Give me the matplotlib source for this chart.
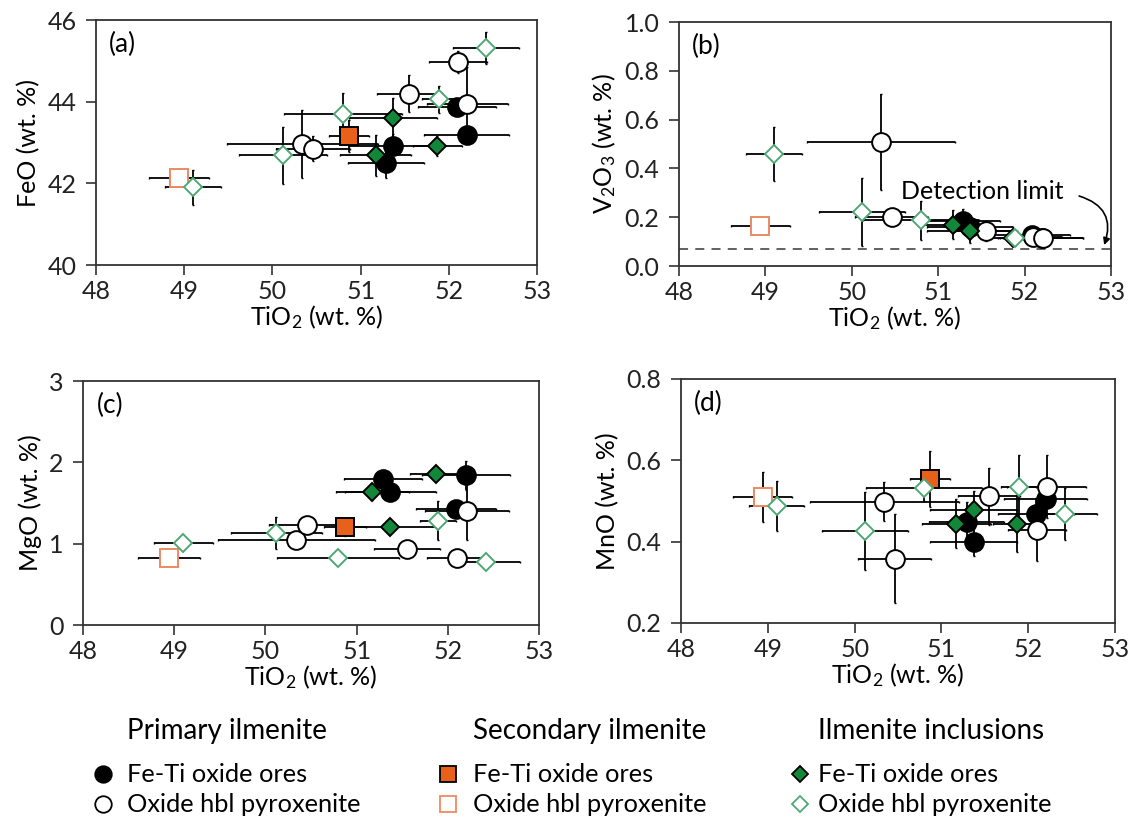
import numpy as np
import matplotlib
matplotlib.use('Agg')
from matplotlib import pyplot as plt
from matplotlib.lines import Line2D

plt.rcParams['font.family'] = ['Lato', 'DejaVu Sans']
plt.rcParams['mathtext.fontset'] = 'custom'
plt.rcParams['mathtext.rm'] = 'Lato'
plt.rcParams['mathtext.it'] = 'Lato:italic'
plt.rcParams['mathtext.bf'] = 'Lato:bold'

# Primary ilmenite - Fe-Ti oxide ores
pri_ore_tio2 = [51.29, 51.37, 52.09, 52.20]
pri_ore_tio2_err = [0.43, 0.50, 0.44, 0.48]
pri_ore_feo = [42.49, 42.92, 43.86, 43.18]
pri_ore_feo_err = [0.35, 0.30, 0.20, 0.20]
pri_ore_v2o3 = [0.184, 0.16, 0.126, 0.115]
pri_ore_v2o3_err = [0.05, 0.04, 0.03, 0.03]
pri_ore_mgo = [1.80, 1.63, 1.43, 1.84]
pri_ore_mgo_err = [0.05, 0.05, 0.05, 0.18]
pri_ore_mno = [0.448, 0.399, 0.467, 0.506]
pri_ore_mno_err = [0.05, 0.035, 0.04, 0.04]

# Primary ilmenite - oxide hbl pyroxenite
pri_px_tio2 = [50.34, 50.46, 51.55, 52.10, 52.21]
pri_px_tio2_err = [0.86, 0.42, 0.36, 0.33, 0.46]
pri_px_feo = [42.96, 42.85, 44.20, 44.98, 43.94]
pri_px_feo_err = [0.83, 0.30, 0.45, 0.27, 0.90]
pri_px_v2o3 = [0.508, 0.20, 0.143, 0.12, 0.116]
pri_px_v2o3_err = [0.195, 0.02, 0.04, 0.03, 0.03]
pri_px_mgo = [1.04, 1.23, 0.93, 0.82, 1.40]
pri_px_mgo_err = [0.05, 0.05, 0.08, 0.05, 0.36]
pri_px_mno = [0.498, 0.358, 0.512, 0.428, 0.535]
pri_px_mno_err = [0.048, 0.11, 0.07, 0.076, 0.078]

# Secondary ilmenite
sec_ore_tio2 = [50.87]
sec_ore_tio2_err = [0.23]
sec_ore_feo = [43.16]
sec_ore_feo_err = [0.40]
sec_ore_v2o3 = [np.nan]
sec_ore_v2o3_err = [0.0]
sec_ore_mgo = [1.20]
sec_ore_mgo_err = [0.10]
sec_ore_mno = [0.554]
sec_ore_mno_err = [0.07]

sec_px_tio2 = [48.94]
sec_px_tio2_err = [0.34]
sec_px_feo = [42.12]
sec_px_feo_err = [0.12]
sec_px_v2o3 = [0.163]
sec_px_v2o3_err = [0.01]
sec_px_mgo = [0.82]
sec_px_mgo_err = [0.05]
sec_px_mno = [0.51]
sec_px_mno_err = [0.062]

# Ilmenite inclusions
inc_ore_tio2 = [51.17, 51.37, 51.87]
inc_ore_tio2_err = [0.40, 0.50, 0.28]
inc_ore_feo = [42.69, 43.61, 42.92]
inc_ore_feo_err = [0.50, 0.47, 0.25]
inc_ore_v2o3 = [0.17, 0.143, 0.115]
inc_ore_v2o3_err = [0.06, 0.05, 0.03]
inc_ore_mgo = [1.64, 1.21, 1.86]
inc_ore_mgo_err = [0.10, 0.05, 0.05]
inc_ore_mno = [0.444, 0.479, 0.444]
inc_ore_mno_err = [0.06, 0.045, 0.07]

inc_px_tio2 = [49.10, 50.12, 50.80, 51.89, 52.42]
inc_px_tio2_err = [0.32, 0.50, 0.67, 0.20, 0.37]
inc_px_feo = [41.90, 42.69, 43.71, 44.06, 45.32]
inc_px_feo_err = [0.43, 0.70, 0.50, 0.33, 0.39]
inc_px_v2o3 = [0.46, 0.221, 0.187, 0.116, np.nan]
inc_px_v2o3_err = [0.11, 0.14, 0.08, 0.03, 0.0]
inc_px_mgo = [1.01, 1.13, 0.82, 1.28, 0.77]
inc_px_mgo_err = [0.05, 0.20, 0.05, 0.24, 0.05]
inc_px_mno = [0.487, 0.426, 0.531, 0.535, 0.469]
inc_px_mno_err = [0.061, 0.096, 0.03, 0.078, 0.064]

detection_limit = 0.07

ORANGE = '#e8611a'
ORANGE_LT = '#ec8a62'
GREEN = '#12873a'
GREEN_LT = '#4fa874'

# marker styles: (marker, size, face, edge)
styles = {
    'pri_ore': ('o', 13.5, 'black', 'black'),
    'pri_px': ('o', 13.5, 'white', 'black'),
    'sec_ore': ('s', 12.8, ORANGE, 'black'),
    'sec_px': ('s', 12.8, 'white', ORANGE_LT),
    'inc_ore': ('D', 9.6, GREEN, 'black'),
    'inc_px': ('D', 9.6, 'white', GREEN_LT),
}

groups = {
    'pri_ore': (pri_ore_tio2, pri_ore_tio2_err,
                {'feo': (pri_ore_feo, pri_ore_feo_err), 'v2o3': (pri_ore_v2o3, pri_ore_v2o3_err),
                 'mgo': (pri_ore_mgo, pri_ore_mgo_err), 'mno': (pri_ore_mno, pri_ore_mno_err)}),
    'pri_px': (pri_px_tio2, pri_px_tio2_err,
               {'feo': (pri_px_feo, pri_px_feo_err), 'v2o3': (pri_px_v2o3, pri_px_v2o3_err),
                'mgo': (pri_px_mgo, pri_px_mgo_err), 'mno': (pri_px_mno, pri_px_mno_err)}),
    'sec_ore': (sec_ore_tio2, sec_ore_tio2_err,
                {'feo': (sec_ore_feo, sec_ore_feo_err), 'v2o3': (sec_ore_v2o3, sec_ore_v2o3_err),
                 'mgo': (sec_ore_mgo, sec_ore_mgo_err), 'mno': (sec_ore_mno, sec_ore_mno_err)}),
    'sec_px': (sec_px_tio2, sec_px_tio2_err,
               {'feo': (sec_px_feo, sec_px_feo_err), 'v2o3': (sec_px_v2o3, sec_px_v2o3_err),
                'mgo': (sec_px_mgo, sec_px_mgo_err), 'mno': (sec_px_mno, sec_px_mno_err)}),
    'inc_ore': (inc_ore_tio2, inc_ore_tio2_err,
                {'feo': (inc_ore_feo, inc_ore_feo_err), 'v2o3': (inc_ore_v2o3, inc_ore_v2o3_err),
                 'mgo': (inc_ore_mgo, inc_ore_mgo_err), 'mno': (inc_ore_mno, inc_ore_mno_err)}),
    'inc_px': (inc_px_tio2, inc_px_tio2_err,
               {'feo': (inc_px_feo, inc_px_feo_err), 'v2o3': (inc_px_v2o3, inc_px_v2o3_err),
                'mgo': (inc_px_mgo, inc_px_mgo_err), 'mno': (inc_px_mno, inc_px_mno_err)}),
}

FS = 18

fig = plt.figure(figsize=(11.3, 8.21), dpi=100)

# panel key, axes rect, ylabel, ylim, yticks, tick format, panel label
panels = [
    ('feo', [0.0850, 0.6772, 0.3903, 0.2984], 'FeO (wt. %)', (40, 46), [40, 42, 44, 46], '%d', '(a)'),
    ('v2o3', [0.6009, 0.6760, 0.3823, 0.2972], 'V$_2$O$_3$ (wt. %)', (0, 1.0),
     [0, 0.2, 0.4, 0.6, 0.8, 1.0], '%.1f', '(b)'),
    ('mgo', [0.0735, 0.2387, 0.4035, 0.2972], 'MgO (wt. %)', (0, 3), [0, 1, 2, 3], '%d', '(c)'),
    ('mno', [0.6027, 0.2412, 0.3841, 0.2972], 'MnO (wt. %)', (0.2, 0.8), [0.2, 0.4, 0.6, 0.8], '%.1f', '(d)'),
]

for key, rect, ylab, ylim, yt, fmt, lab in panels:
    ax = fig.add_axes(rect)
    # error bars first
    for g in groups:
        x, xe, ys = groups[g]
        y, ye = ys[key]
        ax.errorbar(x, y, xerr=xe, yerr=ye, fmt='none', ecolor='black', elinewidth=1.3,
                    capsize=1.0, capthick=1.0, zorder=2)
    # markers on top
    z = 3
    for g in groups:
        x, xe, ys = groups[g]
        y, ye = ys[key]
        m, ms, fc, ec = styles[g]
        ax.plot(x, y, linestyle='none', marker=m, markersize=ms, markerfacecolor=fc,
                markeredgecolor=ec, markeredgewidth=1.4, zorder=z)
        z += 1
    ax.set_xlim(48, 53)
    ax.set_xticks([48, 49, 50, 51, 52, 53])
    ax.set_ylim(*ylim)
    ax.set_yticks(yt)
    ax.yaxis.set_major_formatter(plt.FormatStrFormatter(fmt))
    ax.tick_params(direction='out', length=7, width=1.1, labelsize=FS, pad=4, colors='#222222')
    ax.tick_params(axis='y', pad=7)
    for s in ax.spines.values():
        s.set_linewidth(1.3)
        s.set_color('#333333')
    ax.set_xlabel('TiO$_2$ (wt. %)', fontsize=FS, labelpad=0)
    ax.set_ylabel(ylab, fontsize=FS, labelpad=5)
    ax.text(0.03, 0.95, lab, transform=ax.transAxes, fontsize=FS + 1, va='top', ha='left')
    if key == 'v2o3':
        ax.axhline(detection_limit, color='#555555', linestyle=(0, (5, 4)), linewidth=1.3, zorder=1)
        ax.text(50.57, 0.306, 'Detection limit', fontsize=FS, va='center', ha='left')
        ax.annotate('', xy=(52.91, 0.075), xytext=(52.6, 0.29),
                    arrowprops=dict(arrowstyle='-|>', connectionstyle='arc3,rad=-0.55',
                                    color='black', lw=1.2, mutation_scale=10))

# legend at the bottom
W, H = 1130.0, 821.0
cols = [
    (103, 127, 'Primary ilmenite', 'pri_ore', 'pri_px'),
    (448, 473, 'Secondary ilmenite', 'sec_ore', 'sec_px'),
    (800, 818, 'Ilmenite inclusions', 'inc_ore', 'inc_px'),
]
rows = [774, 804]
for mx, tx, head, g1, g2 in cols:
    fig.text(tx / W, 1 - 731 / H, head, fontsize=20, ha='left', va='center')
    for g, ry, txt in [(g1, rows[0], 'Fe-Ti oxide ores'), (g2, rows[1], 'Oxide hbl pyroxenite')]:
        m, ms, fc, ec = styles[g]
        fig.add_artist(Line2D([mx / W], [1 - ry / H], transform=fig.transFigure, marker=m,
                              markersize=ms * 0.88, markerfacecolor=fc, markeredgecolor=ec,
                              markeredgewidth=1.3, linestyle='none'))
        fig.text(tx / W, 1 - ry / H, txt, fontsize=18.3, ha='left', va='center')

fig.savefig('out.png', dpi=100)
